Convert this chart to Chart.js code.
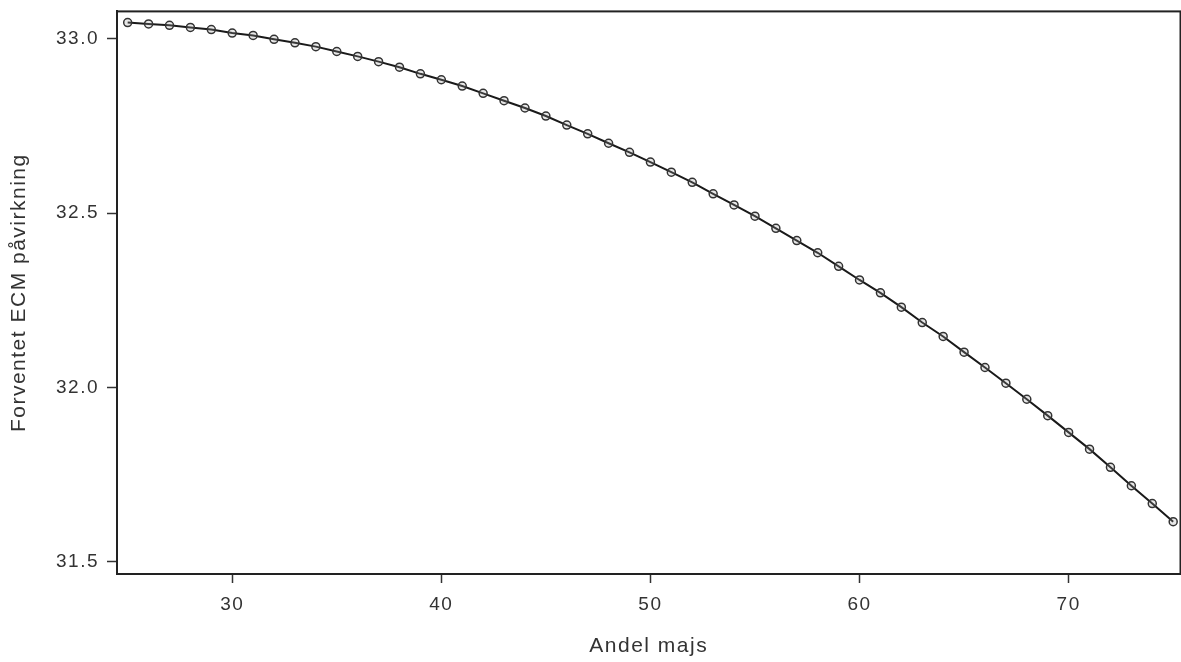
<!DOCTYPE html>
<html>
<head>
<meta charset="utf-8">
<script src="https://cdn.jsdelivr.net/npm/chart.js@4.4.1/dist/chart.umd.min.js"></script>
<style>
  html, body { margin: 0; padding: 0; background: #fff; overflow: hidden; }
  #wrap { position: relative; width: 1181px; height: 662px; overflow: hidden; }
  #chart { position: absolute; left: 0; top: -8px; }
</style>
</head>
<body>
<div id="wrap"><canvas id="chart" width="1186" height="670"></canvas></div>
<script>
// Andel majs (x) and forventet ECM påvirkning (y)
const andelMajs = [
  25, 26, 27, 28, 29, 30, 31, 32, 33, 34,
  35, 36, 37, 38, 39, 40, 41, 42, 43, 44,
  45, 46, 47, 48, 49, 50, 51, 52, 53, 54,
  55, 56, 57, 58, 59, 60, 61, 62, 63, 64,
  65, 66, 67, 68, 69, 70, 71, 72, 73, 74, 75
];
const ecmValues = [
  33.046, 33.042, 33.038, 33.032, 33.026, 33.016, 33.009, 32.998, 32.988, 32.977,
  32.963, 32.949, 32.934, 32.918, 32.899, 32.882, 32.864, 32.843, 32.822, 32.801,
  32.778, 32.752, 32.727, 32.700, 32.674, 32.646, 32.617, 32.588, 32.555, 32.523,
  32.491, 32.456, 32.421, 32.386, 32.347, 32.308, 32.271, 32.230, 32.186, 32.146,
  32.101, 32.057, 32.012, 31.966, 31.919, 31.871, 31.823, 31.771, 31.718, 31.667, 31.615
];
const xTicks = [30, 40, 50, 60, 70];
const yTicks = [31.5, 32.0, 32.5, 33.0];

const points = andelMajs.map((x, i) => ({ x: x, y: ecmValues[i] }));

const ink = '#333333';
const fontFamily = '"Liberation Sans", Arial, sans-serif';

// the reference text is spaced out a bit
const spacing = {
  id: 'spacing',
  beforeDraw(chart) { chart.ctx.letterSpacing = '1.5px'; },
  afterDraw(chart) { chart.ctx.letterSpacing = '0px'; }
};

// box round the plot area (top and right sides are not drawn by the axes)
const frame = {
  id: 'frame',
  beforeDatasetsDraw(chart) {
    const { ctx, chartArea: a } = chart;
    ctx.save();
    ctx.strokeStyle = '#222';
    ctx.lineWidth = 2;
    ctx.strokeRect(a.left, a.top, a.right - a.left, a.bottom - a.top);
    ctx.restore();
  }
};

new Chart(document.getElementById('chart'), {
  type: 'line',
  data: {
    datasets: [{
      data: points,
      borderColor: '#1a1a1a',
      borderWidth: 2,
      tension: 0,
      fill: false,
      pointRadius: 4,
      pointBorderWidth: 1.5,
      pointBorderColor: '#333',
      pointBackgroundColor: 'rgba(160,160,160,0.25)'
    }]
  },
  options: {
    responsive: false,
    animation: false,
    devicePixelRatio: 1,
    layout: { padding: { top: 1, right: 0, left: 0, bottom: 0 } },
    plugins: {
      legend: { display: false },
      tooltip: { enabled: false }
    },
    scales: {
      x: {
        type: 'linear',
        min: 24.49,
        max: 75.35,
        afterBuildTicks(scale) { scale.ticks = xTicks.map(v => ({ value: v })); },
        afterFit(scale) { scale.height = 88; },
        grid: {
          drawOnChartArea: false,
          drawTicks: true,
          tickLength: 9,
          tickWidth: 1.5,
          tickColor: '#333',
          color: '#333'
        },
        border: { display: true, color: '#222', width: 2 },
        ticks: {
          color: ink,
          padding: 10,
          maxRotation: 0,
          font: { family: fontFamily, size: 19 },
          callback: v => String(v)
        },
        title: {
          display: true,
          text: 'Andel majs',
          color: ink,
          font: { family: fontFamily, size: 21 },
          padding: { top: 0, bottom: 3 }
        }
      },
      y: {
        type: 'linear',
        min: 31.465,
        max: 33.078,
        afterBuildTicks(scale) { scale.ticks = yTicks.map(v => ({ value: v })); },
        afterFit(scale) { scale.width = 117; },
        grid: {
          drawOnChartArea: false,
          drawTicks: true,
          tickLength: 10,
          tickWidth: 1.5,
          tickColor: '#333',
          color: '#333'
        },
        border: { display: true, color: '#222', width: 2 },
        ticks: {
          color: ink,
          padding: 8,
          font: { family: fontFamily, size: 19 },
          callback: v => Number(v).toFixed(1)
        },
        title: {
          display: true,
          text: 'Forventet ECM påvirkning',
          color: ink,
          font: { family: fontFamily, size: 21 },
          padding: { top: 7, bottom: 0 }
        }
      }
    }
  },
  plugins: [spacing, frame]
});
</script>
</body>
</html>
